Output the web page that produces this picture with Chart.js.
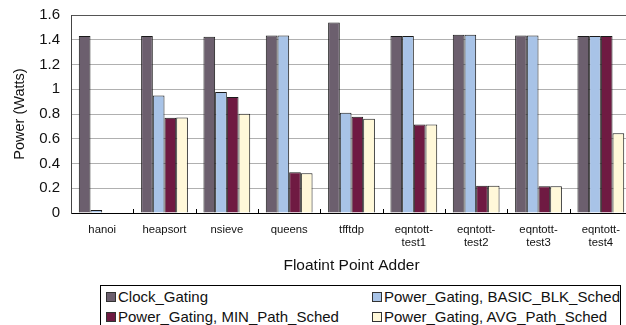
<!DOCTYPE html>
<html>
<head>
<meta charset="utf-8">
<script src="https://cdn.jsdelivr.net/npm/chart.js@4.4.1/dist/chart.umd.min.js"></script>
<style>
  html, body { margin: 0; padding: 0; background: #fff; overflow: hidden; }
  #wrap { position: relative; width: 640px; height: 325px; }
  #box { position: absolute; left: 0; top: 0; width: 640px; height: 280px; }
  #legenda {
    position: absolute; left: 100px; top: 285px; width: 521px; height: 50px;
    border: 1px solid #000; box-sizing: border-box;
    font-family: "Liberation Sans", Arial, sans-serif; font-size: 15px; color: #111;
  }
  .item { position: absolute; display: flex; align-items: center; white-space: nowrap; height: 18px; line-height: 18px; }
  .item span.q { display: inline-block; width: 10px; height: 10px; box-sizing: border-box; border: 1px solid #333; margin-right: 2px; }
</style>
</head>
<body>
<div id="wrap">
  <div id="box"><canvas id="grafico"></canvas></div>
  <div id="legenda"></div>
</div>
<script>
// categorias e valores (Watts)
const categorias = [['hanoi'], ['heapsort'], ['nsieve'], ['queens'], ['tfftdp'],
  ['eqntott-', 'test1'], ['eqntott-', 'test2'], ['eqntott-', 'test3'], ['eqntott-', 'test4']]

const clockGating = [1.43, 1.43, 1.425, 1.435, 1.54, 1.43, 1.44, 1.435, 1.43]
const basicBlk    = [0.024, 0.95, 0.978, 1.435, 0.81, 1.43, 1.44, 1.435, 1.43]
const minPath     = [0, 0.77, 0.937, 0.329, 0.778, 0.715, 0.22, 0.216, 1.43]
const avgPath     = [0, 0.772, 0.802, 0.321, 0.762, 0.715, 0.22, 0.216, 0.644]

const nomes = ['Clock_Gating', 'Power_Gating, BASIC_BLK_Sched', 'Power_Gating, MIN_Path_Sched', 'Power_Gating, AVG_Path_Sched']
const cores = ['#6c5f6e', '#a8c3e7', '#6f1a42', '#fff8d9']
const yTicks = [0, 0.2, 0.4, 0.6, 0.8, 1, 1.2, 1.4, 1.6]

const fonte = '"Liberation Sans", Arial, sans-serif'

// tracinhos do eixo x entre categorias
const tracinhos = {
  id: 'tracinhos',
  afterDatasetsDraw(chart) {
    const x = chart.scales.x
    const ctx = chart.ctx
    const base = chart.chartArea.bottom
    ctx.save()
    ctx.strokeStyle = '#000'
    ctx.lineWidth = 1
    for (let i = 0; i < categorias.length - 1; i++) {
      const px = Math.round((x.getPixelForValue(i) + x.getPixelForValue(i + 1)) / 2) + 0.5
      ctx.beginPath()
      ctx.moveTo(px, base)
      ctx.lineTo(px, base - 4)
      ctx.stroke()
    }
    ctx.restore()
  }
}

const series = [clockGating, basicBlk, minPath, avgPath]

new Chart(document.getElementById('grafico'), {
  type: 'bar',
  data: {
    labels: categorias,
    datasets: series.map((s, i) => ({
      label: nomes[i],
      data: s,
      backgroundColor: cores[i],
      borderColor: '#1a1a1a',
      borderWidth: 1,
      borderSkipped: 'start',
      categoryPercentage: 0.75,
      barPercentage: 1.0
    }))
  },
  options: {
    responsive: true,
    maintainAspectRatio: false,
    animation: false,
    layout: { padding: { top: 15, right: 8, bottom: 0, left: 0 } },
    plugins: {
      legend: { display: false },
      tooltip: { enabled: false }
    },
    scales: {
      x: {
        grid: { display: false, drawTicks: false },
        border: { color: '#000', width: 1 },
        ticks: { color: '#111', font: { family: fonte, size: 11.3 }, padding: 10, maxRotation: 0, autoSkip: false },
        title: { display: true, text: 'Floatint Point Adder', color: '#111', font: { family: fonte, size: 15.5 }, padding: { top: 0, bottom: 5 } },
        afterFit(s) { s.height = 67 }
      },
      y: {
        min: 0, max: 1.6,
        afterBuildTicks(s) { s.ticks = yTicks.map(v => ({ value: v })) },
        grid: {
          drawTicks: true,
          tickLength: 11,
          tickColor: 'rgba(0,0,0,0)',
          color: ctx => ctx.tick && ctx.tick.value === 1.6 ? '#555' : '#b0b0b0',
          lineWidth: 1
        },
        border: { color: '#444', width: 1 },
        ticks: { color: '#111', font: { family: fonte, size: 15 }, padding: 0, callback: v => String(v) },
        title: { display: true, text: 'Power (Watts)', color: '#111', font: { family: fonte, size: 14.5 }, padding: { top: 11, bottom: 0 } },
        afterFit(s) { s.width = 71 }
      }
    }
  },
  plugins: [tracinhos]
})

// legenda em caixa, duas colunas
const legenda = document.getElementById('legenda')
const posicoes = [[5, 2], [271, 2], [5, 22], [271, 22]]
nomes.forEach((nome, k) => {
  const div = document.createElement('div')
  div.className = 'item'
  div.style.left = posicoes[k][0] + 'px'
  div.style.top = posicoes[k][1] + 'px'
  div.innerHTML = `<span class="q" style="background:${cores[k]}"></span>${nome}`
  legenda.appendChild(div)
})
</script>
</body>
</html>
